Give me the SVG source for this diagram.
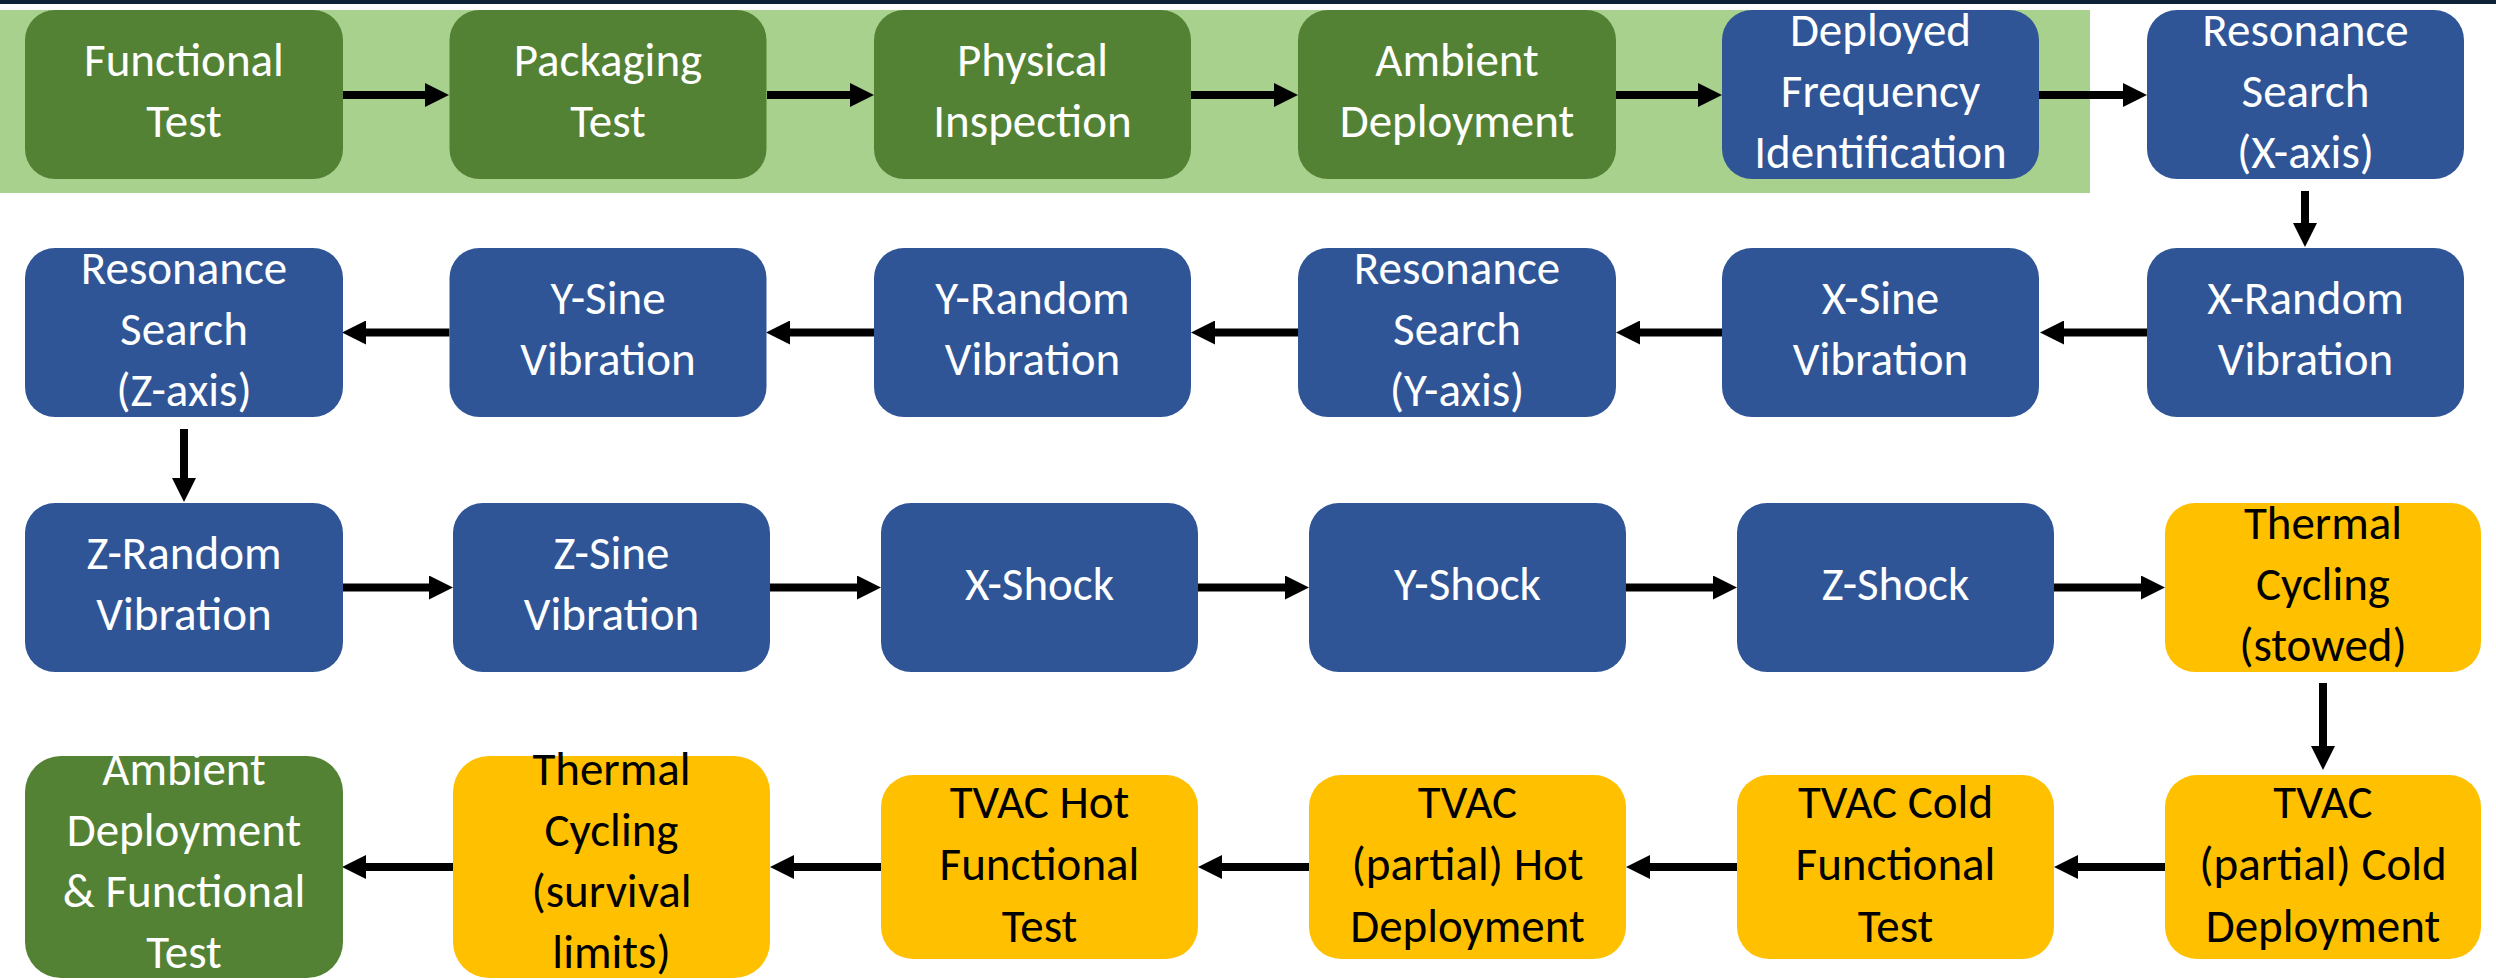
<svg xmlns="http://www.w3.org/2000/svg" width="2496" height="980" viewBox="0 0 2496 980">
<defs>
<style>
.g{fill:#548235}
.b{fill:#2F5597}
.y{fill:#FFC000}
text{font-family:Carlito,Lato,"Liberation Sans",sans-serif;font-size:47px;text-anchor:middle}
.w{fill:#FFFFFF}
.k{fill:#000000}
.c{stroke:#000;stroke-width:8;fill:none;marker-end:url(#ah)}
</style>
<marker id="ah" markerUnits="userSpaceOnUse" markerWidth="24" markerHeight="24" refX="0" refY="12" orient="auto">
<path d="M0,0 L24,12 L0,24 z" fill="#000"/>
</marker>
</defs>
<rect x="0" y="0" width="2496" height="980" fill="#FFFFFF"/>
<rect x="0" y="0" width="2496" height="4" fill="#0F2235"/>
<rect x="0" y="10" width="2090" height="183" fill="#A9D18E"/>

<g id="connectors">
<line class="c" x1="343" y1="95" x2="425" y2="95"/>
<line class="c" x1="767" y1="95" x2="850" y2="95"/>
<line class="c" x1="1191" y1="95" x2="1274" y2="95"/>
<line class="c" x1="1616" y1="95" x2="1698" y2="95"/>
<line class="c" x1="2039" y1="95" x2="2123" y2="95"/>
<line class="c" x1="2305" y1="191" x2="2305" y2="223"/>
<line class="c" x1="2147" y1="332.5" x2="2064" y2="332.5"/>
<line class="c" x1="1722" y1="332.5" x2="1640" y2="332.5"/>
<line class="c" x1="1298" y1="332.5" x2="1215" y2="332.5"/>
<line class="c" x1="874" y1="332.5" x2="790" y2="332.5"/>
<line class="c" x1="449.5" y1="332.5" x2="366" y2="332.5"/>
<line class="c" x1="184" y1="429" x2="184" y2="478"/>
<line class="c" x1="342" y1="587.5" x2="429" y2="587.5"/>
<line class="c" x1="770" y1="587.5" x2="857" y2="587.5"/>
<line class="c" x1="1198" y1="587.5" x2="1285" y2="587.5"/>
<line class="c" x1="1626" y1="587.5" x2="1713" y2="587.5"/>
<line class="c" x1="2054" y1="587.5" x2="2141" y2="587.5"/>
<line class="c" x1="2323" y1="683" x2="2323" y2="746"/>
<line class="c" x1="2165" y1="867" x2="2078" y2="867"/>
<line class="c" x1="1737" y1="867" x2="1650" y2="867"/>
<line class="c" x1="1309" y1="867" x2="1222" y2="867"/>
<line class="c" x1="881" y1="867" x2="794" y2="867"/>
<line class="c" x1="453" y1="867" x2="366" y2="867"/>
</g>

<g id="n1"><rect class="g" x="25" y="10" width="318" height="169" rx="30"/><text class="w" x="184" y="76">Functional</text><text class="w" x="184" y="137">Test</text></g>
<g id="n2"><rect class="g" x="449.5" y="10" width="317" height="169" rx="30"/><text class="w" x="608" y="76">Packaging</text><text class="w" x="608" y="137">Test</text></g>
<g id="n3"><rect class="g" x="874" y="10" width="317" height="169" rx="30"/><text class="w" x="1032.5" y="76">Physical</text><text class="w" x="1032.5" y="137">Inspection</text></g>
<g id="n4"><rect class="g" x="1298" y="10" width="318" height="169" rx="30"/><text class="w" x="1457" y="76">Ambient</text><text class="w" x="1457" y="137">Deployment</text></g>
<g id="n5"><rect class="b" x="1722" y="10" width="317" height="169" rx="30"/><text class="w" x="1880.5" y="46">Deployed</text><text class="w" x="1880.5" y="107">Frequency</text><text class="w" x="1880.5" y="168">Identification</text></g>
<g id="n6"><rect class="b" x="2147" y="10" width="317" height="169" rx="30"/><text class="w" x="2305.5" y="46">Resonance</text><text class="w" x="2305.5" y="107">Search</text><text class="w" x="2305.5" y="168">(X-axis)</text></g>

<g id="n7"><rect class="b" x="2147" y="248" width="317" height="169" rx="30"/><text class="w" x="2305.5" y="314">X-Random</text><text class="w" x="2305.5" y="375">Vibration</text></g>
<g id="n8"><rect class="b" x="1722" y="248" width="317" height="169" rx="30"/><text class="w" x="1880.5" y="314">X-Sine</text><text class="w" x="1880.5" y="375">Vibration</text></g>
<g id="n9"><rect class="b" x="1298" y="248" width="318" height="169" rx="30"/><text class="w" x="1457" y="284">Resonance</text><text class="w" x="1457" y="345">Search</text><text class="w" x="1457" y="406">(Y-axis)</text></g>
<g id="n10"><rect class="b" x="874" y="248" width="317" height="169" rx="30"/><text class="w" x="1032.5" y="314">Y-Random</text><text class="w" x="1032.5" y="375">Vibration</text></g>
<g id="n11"><rect class="b" x="449.5" y="248" width="317" height="169" rx="30"/><text class="w" x="608" y="314">Y-Sine</text><text class="w" x="608" y="375">Vibration</text></g>
<g id="n12"><rect class="b" x="25" y="248" width="318" height="169" rx="30"/><text class="w" x="184" y="284">Resonance</text><text class="w" x="184" y="345">Search</text><text class="w" x="184" y="406">(Z-axis)</text></g>

<g id="n13"><rect class="b" x="25" y="503" width="318" height="169" rx="30"/><text class="w" x="184" y="569">Z-Random</text><text class="w" x="184" y="630">Vibration</text></g>
<g id="n14"><rect class="b" x="453" y="503" width="317" height="169" rx="30"/><text class="w" x="611.5" y="569">Z-Sine</text><text class="w" x="611.5" y="630">Vibration</text></g>
<g id="n15"><rect class="b" x="881" y="503" width="317" height="169" rx="30"/><text class="w" x="1039.5" y="600">X-Shock</text></g>
<g id="n16"><rect class="b" x="1309" y="503" width="317" height="169" rx="30"/><text class="w" x="1467.5" y="600">Y-Shock</text></g>
<g id="n17"><rect class="b" x="1737" y="503" width="317" height="169" rx="30"/><text class="w" x="1895.5" y="600">Z-Shock</text></g>
<g id="n18"><rect class="y" x="2165" y="503" width="316" height="169" rx="30"/><text class="k" x="2323" y="539">Thermal</text><text class="k" x="2323" y="600">Cycling</text><text class="k" x="2323" y="661">(stowed)</text></g>

<g id="n19"><rect class="y" x="2165" y="775" width="316" height="184" rx="32"/><text class="k" x="2323" y="818">TVAC</text><text class="k" x="2323" y="880">(partial) Cold</text><text class="k" x="2323" y="942">Deployment</text></g>
<g id="n20"><rect class="y" x="1737" y="775" width="317" height="184" rx="32"/><text class="k" x="1895.5" y="818">TVAC Cold</text><text class="k" x="1895.5" y="880">Functional</text><text class="k" x="1895.5" y="942">Test</text></g>
<g id="n21"><rect class="y" x="1309" y="775" width="317" height="184" rx="32"/><text class="k" x="1467.5" y="818">TVAC</text><text class="k" x="1467.5" y="880">(partial) Hot</text><text class="k" x="1467.5" y="942">Deployment</text></g>
<g id="n22"><rect class="y" x="881" y="775" width="317" height="184" rx="32"/><text class="k" x="1039.5" y="818">TVAC Hot</text><text class="k" x="1039.5" y="880">Functional</text><text class="k" x="1039.5" y="942">Test</text></g>
<g id="n23"><rect class="y" x="453" y="756" width="317" height="222" rx="36"/><text class="k" x="611.5" y="785">Thermal</text><text class="k" x="611.5" y="846">Cycling</text><text class="k" x="611.5" y="907">(survival</text><text class="k" x="611.5" y="968">limits)</text></g>
<g id="n24"><rect class="g" x="25" y="756" width="318" height="222" rx="36"/><text class="w" x="184" y="785">Ambient</text><text class="w" x="184" y="846">Deployment</text><text class="w" x="184" y="907">&amp; Functional</text><text class="w" x="184" y="968">Test</text></g>
</svg>
